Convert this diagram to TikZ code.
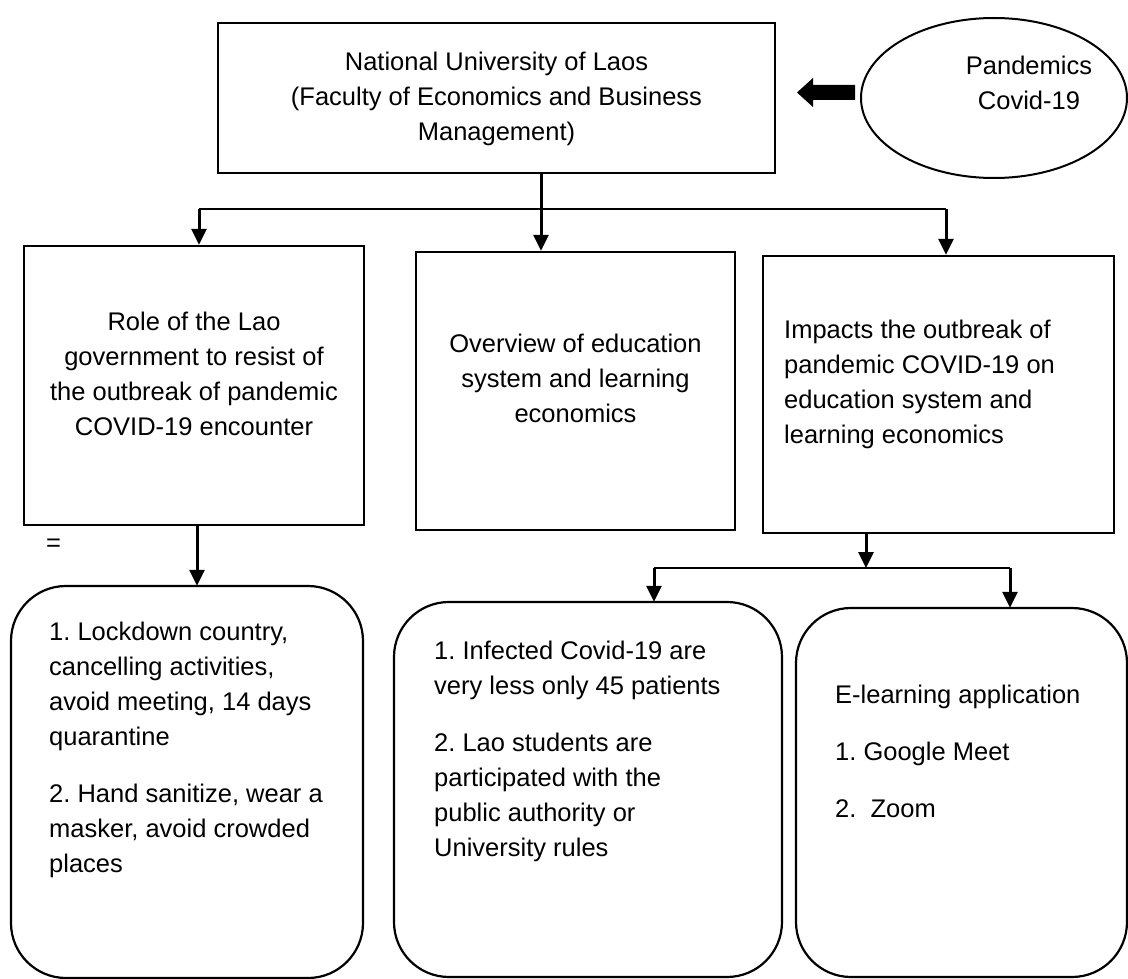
\documentclass[tikz,border=0pt]{standalone}
\usepackage{fontspec}
\setmainfont{Liberation Sans}
\usetikzlibrary{arrows.meta,shapes.geometric}
\begin{document}
\begin{tikzpicture}[x=1pt,y=-1pt,
  txt/.style={font=\fontsize{25.5pt}{35pt}\selectfont\frenchspacing, inner sep=0pt},
  sqbox/.style={draw, line width=2.4pt, rectangle, inner sep=0pt},
  rbox/.style={draw, line width=2.2pt, rounded corners=55pt},
  arr/.style={line width=3pt, -{Triangle[length=16pt,width=15pt]}},
  thinline/.style={line width=1.4pt}]
\useasboundingbox (0,0) rectangle (1128,979);
% boxes
\node[sqbox, minimum width=557pt, minimum height=150pt] (nul) at (496.5,98) {};
\node[txt, align=center, anchor=base] (nult) at (496.5,141) {National University of Laos\\(Faculty of Economics and Business\\Management)};
\node[draw, ellipse, line width=2pt, minimum width=266pt, minimum height=160pt] (pan) at (994,98) {};
\node[txt, align=center, anchor=base] (pant) at (1029,110) {Pandemics\\Covid-19};
\fill (855,85) -- (813,85) -- (813,78) -- (797,92.5) -- (813,107) -- (813,100) -- (855,100) -- cycle;

\node[sqbox, minimum width=340pt, minimum height=279pt] (b1) at (194,385.5) {};
\node[txt, align=center, anchor=base] (b1t) at (194,435) {Role of the Lao\\government to resist of\\the outbreak of pandemic\\COVID-19 encounter};
\node[sqbox, minimum width=319pt, minimum height=278pt] (b2) at (575.5,391) {};
\node[txt, align=center, anchor=base] (b2t) at (575.5,422) {Overview of education\\system and learning\\economics};
\node[sqbox, minimum width=351pt, minimum height=277pt] (b3) at (938.5,394.5) {};
\node[txt, align=left, anchor=base west] (b3t) at (784,443) {Impacts the outbreak of\\pandemic COVID-19 on\\education system and\\learning economics};
\node[txt] (eq) at (53.5,545) {=};

% rounded boxes
\draw[rbox] (11,586) rectangle (363,978);
\node[minimum width=352pt, minimum height=392pt, inner sep=0pt] (r1) at (187,782) {};
\node[txt, align=left, anchor=base west] (r1t) at (49,872) {1. Lockdown country,\\cancelling activities,\\avoid meeting, 14 days\\quarantine\\[22pt]2. Hand sanitize, wear a\\masker, avoid crowded\\places};
\draw[rbox] (394,602) rectangle (782,977);
\node[minimum width=388pt, minimum height=375pt, inner sep=0pt] (r2) at (588,789.5) {};
\node[txt, align=left, anchor=base west] (r2t) at (434,856) {1. Infected Covid-19 are\\very less only 45 patients\\[22pt]2. Lao students are\\participated with the\\public authority or\\University rules};
\draw[rbox] (796,608) rectangle (1127,977);
\node[minimum width=331pt, minimum height=369pt, inner sep=0pt] (r3) at (961.5,792.5) {};
\node[txt, align=left, anchor=base west] (r3t) at (835,817) {E-learning application\\[22pt]1. Google Meet\\[22pt]2.\ \ Zoom};

% connectors
\coordinate (s0) at (541,209);
\coordinate (sL) at (199,209);
\coordinate (sR) at (946,209);
\coordinate (a1) at (197,545);
\coordinate (t0) at (866,568);
\coordinate (tL) at (654,568);
\coordinate (tR) at (1010,568);
\draw[thinline] (sL) -- (sR);
\draw[arr] (s0 |- nul.south) -- (s0 |- b2.north);
\draw[arr] (sL) -- (sL |- b1.north);
\draw[arr] (sR) -- (sR |- b3.north);
\draw[arr] (a1 |- b1.south) -- (a1 |- r1.north);
\draw[arr] (t0 |- b3.south) -- (t0);
\draw[thinline] (tL) -- (tR);
\draw[arr] (tL) -- (tL |- r2.north);
\draw[arr] (tR) -- (tR |- r3.north);
\end{tikzpicture}
\end{document}
